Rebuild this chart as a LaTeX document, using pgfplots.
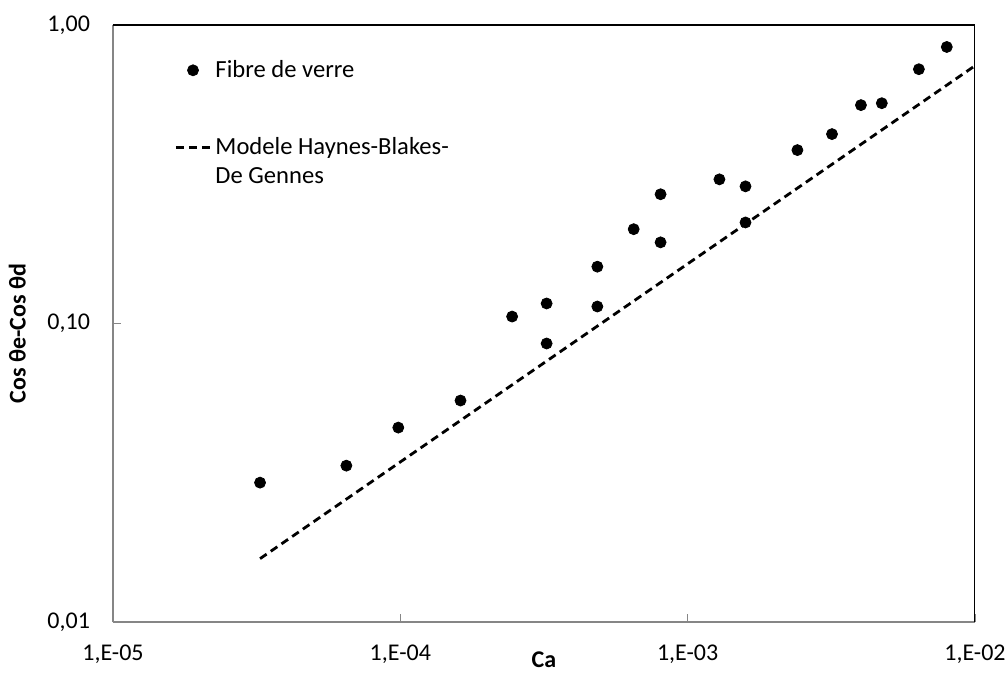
\documentclass[border=0pt]{standalone}
\usepackage{pgfplots}
\pgfplotsset{compat=1.18}
\usepackage{fontspec}
\setmainfont{Carlito}

\definecolor{axisgray}{RGB}{134,134,134}

\begin{document}
\begin{tikzpicture}
% page = whole reference canvas (1px = 0.5pt), axis box lower-left at origin
\useasboundingbox (-56.5pt,-25.5pt) rectangle (446.5pt,311pt);
\begin{axis}[
  scale only axis,
  width=431pt, height=298.5pt,
  xmode=log, ymode=log,
  xmin=1e-5, xmax=1e-2,
  ymin=0.01, ymax=1,
  axis x line*=bottom, axis y line*=left,
  axis line style={axisgray, line width=0.8pt},
  tick style={axisgray, line width=0.8pt},
  minor tick style={draw=none},
  tick align=inside,
  major tick length=4pt,
  xtick={1e-5,1e-4,1e-3,1e-2},
  xticklabels={{1,E-05},{1,E-04},{1,E-03},{1,E-02}},
  ytick={0.01,0.1,1},
  yticklabels={{0,01},{0,10},{1,00}},
  /pgf/number format/assume math mode=true,
  tick label style={font=\fontsize{12}{14}\selectfont, black},
  xticklabel style={yshift=-8pt},
  yticklabel style={xshift=-8pt},
  every axis x label/.style={at={(axis description cs:0.5,-0.064)}, anchor=center},
  every axis y label/.style={at={(axis description cs:-0.111,0.483)}, rotate=90, anchor=center},
  label style={font=\fontsize{12}{14}\selectfont\bfseries},
  xlabel={Ca},
  ylabel={Cos θe-Cos θd},
  legend style={at={(0.064,0.955)}, anchor=north west, draw=none, fill=none,
    font=\fontsize{12.3}{14}\selectfont, row sep=24.5pt},
  legend cell align=left,
]
\addplot[only marks, mark=*, mark size=2.75pt, black] coordinates {
  (3.25e-5,0.0293) (6.49e-5,0.0334) (9.84e-5,0.0448) (1.62e-4,0.0552)
  (2.45e-4,0.1055) (3.23e-4,0.1167) (3.23e-4,0.0857) (4.85e-4,0.114)
  (4.85e-4,0.155) (6.49e-4,0.207) (8.05e-4,0.271) (8.05e-4,0.187)
  (1.29e-3,0.304) (1.59e-3,0.288) (1.59e-3,0.218) (2.41e-3,0.381)
  (3.18e-3,0.431) (4.01e-3,0.539) (4.74e-3,0.547) (6.38e-3,0.711)
  (7.98e-3,0.844)
};
\addplot[black, line width=1.4pt, dash pattern=on 4pt off 2.5pt] coordinates {
  (3.25e-5,0.0163) (9.85e-3,0.723)
};
\legend{Fibre de verre,
  \smash{\makebox[0pt][l]{\raisebox{-1.2em}{De Gennes}}}Modele Haynes-Blakes-}
\draw[black, line width=0.8pt] (rel axis cs:0,1) -- (rel axis cs:1,1) -- (rel axis cs:1,0);
\end{axis}
\end{tikzpicture}
\end{document}
